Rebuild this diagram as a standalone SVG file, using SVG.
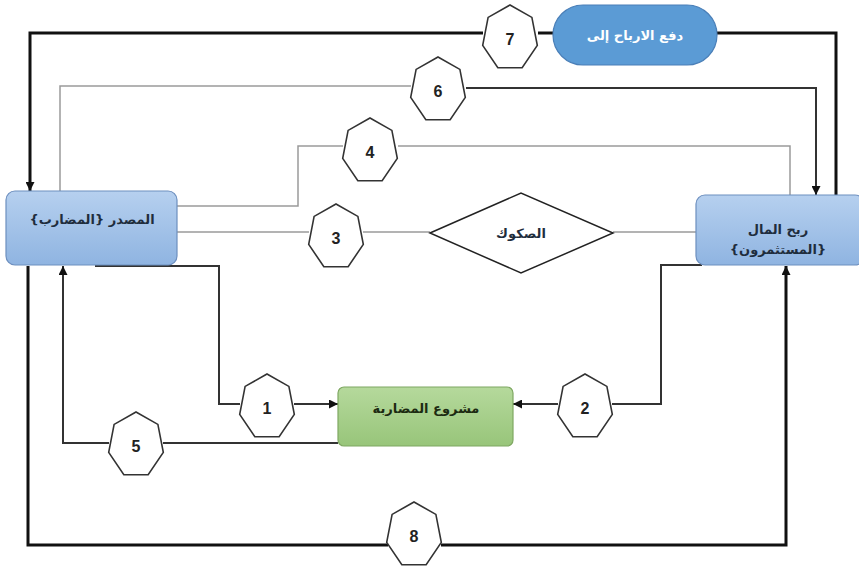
<svg xmlns="http://www.w3.org/2000/svg" xmlns:xlink="http://www.w3.org/1999/xlink" width="859" height="568" viewBox="0 0 859 568">
<style>
.node-blue{fill:url(#gBlue);stroke:#6d8fbf;stroke-width:1.2}
.node-pill{fill:#5b9bd5;stroke:#4a7fb8;stroke-width:1.2}
.node-green{fill:url(#gGreen);stroke:#7fa862;stroke-width:1.2}
.diamond{fill:#fff;stroke:#222;stroke-width:1.5}
.hep{fill:#fff;stroke:#333;stroke-width:1.6}
.lbl{font-family:"DejaVu Sans","Noto Sans",sans-serif;font-weight:bold;font-size:13px;fill:#1f2d3d;text-anchor:middle}
.num{font-family:"Liberation Sans","DejaVu Sans",sans-serif;font-weight:bold;font-size:16px;fill:#222;text-anchor:middle}
.thick{fill:none;stroke:#111;stroke-width:3}
.dark{fill:none;stroke:#333;stroke-width:2}
.gray{fill:none;stroke:#9a9a9a;stroke-width:1.5}
</style>
<defs>
<linearGradient id="gBlue" x1="0" y1="0" x2="0" y2="1"><stop offset="0" stop-color="#b6d0ef"/><stop offset="1" stop-color="#8fb4e1"/></linearGradient>
<linearGradient id="gGreen" x1="0" y1="0" x2="0" y2="1"><stop offset="0" stop-color="#b5d99c"/><stop offset="1" stop-color="#98c57a"/></linearGradient>
<polygon id="hepShape" points="0,-33 21.89,-20.58 27.3,7.34 12.15,29.73 -12.15,29.73 -27.3,7.34 -21.89,-20.58"/>
<marker id="arr" viewBox="0 0 10 10" refX="10" refY="5" markerWidth="9" markerHeight="9" markerUnits="userSpaceOnUse" orient="auto"><path d="M0,0 L10,5 L0,10 z" fill="#111"/></marker>
</defs>
<rect width="859" height="568" fill="#fff"/>
<g id="connectors">
<!-- 7 -->
<path class="thick" d="M836 195 V33 H717"/>
<path class="thick" d="M553 33 H538"/>
<path class="thick" d="M483 33 H30 V191" marker-end="url(#arr)"/>
<!-- 6 -->
<path class="gray" d="M60 191 V86 H411"/>
<path class="dark" d="M466 88 H816 V195" marker-end="url(#arr)"/>
<!-- 4 -->
<path class="gray" d="M177 206 H298 V146 H343"/>
<path class="gray" d="M398 146 H790 V195"/>
<!-- 3 -->
<path class="gray" d="M177 232 H309"/>
<path class="gray" d="M363 232 H430"/>
<path class="gray" d="M613 232 H696"/>
<!-- 1 -->
<path class="dark" d="M95 266 H219 V404 H240"/>
<path class="dark" d="M294 404 H338" marker-end="url(#arr)"/>
<!-- 2 -->
<path class="dark" d="M702 265 H661 V404 H612"/>
<path class="dark" d="M558 404 H513" marker-end="url(#arr)"/>
<!-- 5 -->
<path class="dark" d="M338 443 H163"/>
<path class="dark" d="M109 443 H63 V266" marker-end="url(#arr)"/>
<!-- 8 -->
<path class="thick" d="M28 266 V545 H388"/>
<path class="thick" d="M441 545 H786 V266" marker-end="url(#arr)"/>
</g>
<g id="node-source">
<rect class="node-blue" x="6" y="191" width="171" height="74" rx="9"/>
<text class="lbl" x="92" y="224" direction="rtl">المصدر {المضارب}</text>
</g>
<g id="node-investors">
<rect class="node-blue" x="696" y="195" width="168" height="70" rx="9"/>
<text class="lbl" x="778" y="234" direction="rtl">ربح المال</text>
<text class="lbl" x="778" y="254" direction="rtl">{المستثمرون}</text>
</g>
<g id="node-profit">
<rect class="node-pill" x="553" y="5" width="164" height="60" rx="30"/>
<text class="lbl" x="635" y="40" direction="rtl" style="fill:#fff">دفع الارباح إلى</text>
</g>
<g id="node-sukuk">
<polygon class="diamond" points="430,233 521,193 613,233 521,273"/>
<text class="lbl" x="521" y="238" direction="rtl">الصكوك</text>
</g>
<g id="node-project">
<rect class="node-green" x="338" y="387" width="175" height="59" rx="6"/>
<text class="lbl" x="426" y="413" direction="rtl" style="fill:#1d2b12">مشروع المضاربة</text>
</g>
<g id="step-7"><use href="#hepShape" class="hep" x="510" y="38"/><text class="num" x="510" y="45">7</text></g>
<g id="step-6"><use href="#hepShape" class="hep" x="438" y="90"/><text class="num" x="438" y="97">6</text></g>
<g id="step-4"><use href="#hepShape" class="hep" x="370" y="151"/><text class="num" x="370" y="158">4</text></g>
<g id="step-3"><use href="#hepShape" class="hep" x="336" y="237"/><text class="num" x="336" y="244">3</text></g>
<g id="step-1"><use href="#hepShape" class="hep" x="267" y="407"/><text class="num" x="267" y="414">1</text></g>
<g id="step-2"><use href="#hepShape" class="hep" x="585" y="407"/><text class="num" x="585" y="414">2</text></g>
<g id="step-5"><use href="#hepShape" class="hep" x="136" y="445"/><text class="num" x="136" y="452">5</text></g>
<g id="step-8"><use href="#hepShape" class="hep" x="414" y="535"/><text class="num" x="414" y="542">8</text></g>
</svg>
